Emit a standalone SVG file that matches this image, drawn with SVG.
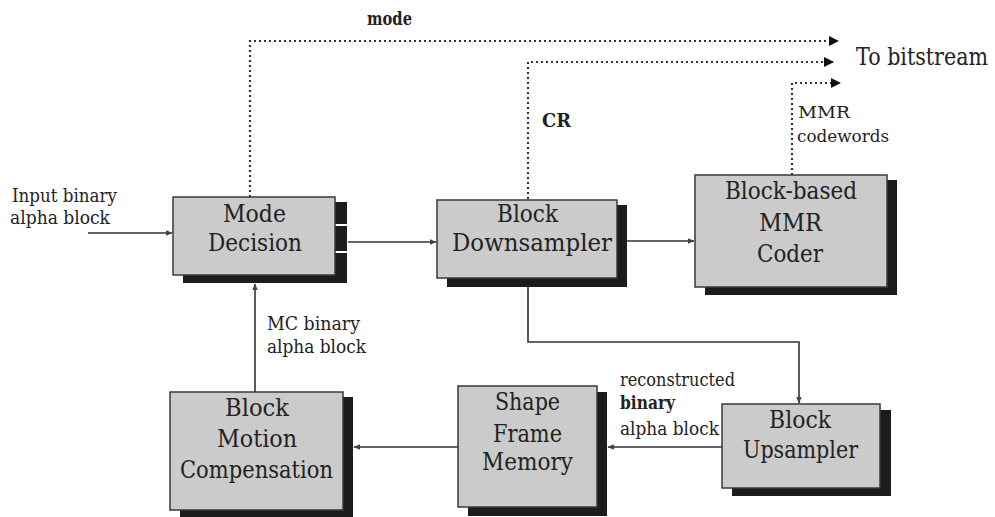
<svg xmlns="http://www.w3.org/2000/svg" width="995" height="517" viewBox="0 0 995 517">
<style>
.box{fill:#cbcbcb;stroke:#3a3a3a;stroke-width:1.5}
.sh{fill:#1c1c1c}
text{font-family:"DejaVu Serif","Liberation Serif",serif;fill:#222}
.bt{font-size:24px}
.st{font-size:18px}
.sm{font-size:16px}
.solid{fill:none;stroke:#333;stroke-width:1.6}
.dot{fill:none;stroke:#333;stroke-width:2.2;stroke-dasharray:2 3}
</style>
<defs>
<marker id="big" viewBox="0 0 10 10" refX="9" refY="5" markerWidth="10" markerHeight="10" markerUnits="userSpaceOnUse" orient="auto">
<path d="M0,0 L10,5 L0,10 Z" fill="#111"/>
</marker>
<marker id="sm" viewBox="0 0 10 10" refX="9" refY="5" markerWidth="7" markerHeight="7" markerUnits="userSpaceOnUse" orient="auto">
<path d="M0,1 L10,5 L0,9 Z" fill="#444"/>
</marker>
</defs>
<rect width="995" height="517" fill="#fff"/>

<g id="connectors">
<line class="solid" x1="88" y1="233" x2="172" y2="233" marker-end="url(#sm)"/>
<line class="solid" x1="348" y1="242" x2="436" y2="242" marker-end="url(#sm)"/>
<line class="solid" x1="627" y1="241" x2="694" y2="241" marker-end="url(#sm)"/>
<polyline class="solid" points="528,287 528,342 799,342 799,403" marker-end="url(#sm)"/>
<line class="solid" x1="722" y1="447" x2="608" y2="447" marker-end="url(#sm)"/>
<line class="solid" x1="458" y1="447" x2="354" y2="447" marker-end="url(#sm)"/>
<line class="solid" x1="255" y1="392" x2="255" y2="284" marker-end="url(#sm)"/>
<polyline class="dot" points="250,197 250,41 838,41" marker-end="url(#big)"/>
<polyline class="dot" points="528,199 528,62 833,62" marker-end="url(#big)"/>
<polyline class="dot" points="792,175 792,83 840,83" marker-end="url(#big)"/>
</g>

<g id="mode-decision">
<rect class="sh" x="335" y="202" width="12" height="22"/>
<rect class="sh" x="335" y="226" width="12" height="25"/>
<rect class="sh" x="335" y="253" width="12" height="30"/>
<rect class="sh" x="183" y="275" width="164" height="8"/>
<rect class="box" x="173" y="197" width="162" height="78"/>
<text class="bt" x="223" y="222" textLength="63" lengthAdjust="spacingAndGlyphs">Mode</text>
<text class="bt" x="208" y="251" textLength="94" lengthAdjust="spacingAndGlyphs">Decision</text>
</g>

<g id="block-downsampler">
<rect class="sh" x="617" y="205" width="10" height="82"/>
<rect class="sh" x="447" y="278" width="180" height="9"/>
<rect class="box" x="437" y="200" width="180" height="78"/>
<text class="bt" x="497" y="222" textLength="61" lengthAdjust="spacingAndGlyphs">Block</text>
<text class="bt" x="452" y="251" textLength="160" lengthAdjust="spacingAndGlyphs">Downsampler</text>
</g>

<g id="mmr-coder">
<rect class="sh" x="887" y="180" width="10" height="115"/>
<rect class="sh" x="705" y="287" width="192" height="8"/>
<rect class="box" x="695" y="175" width="192" height="112"/>
<text class="bt" x="725" y="199" textLength="132" lengthAdjust="spacingAndGlyphs">Block-based</text>
<text class="bt" x="759" y="231" textLength="63" lengthAdjust="spacingAndGlyphs">MMR</text>
<text class="bt" x="757" y="262" textLength="66" lengthAdjust="spacingAndGlyphs">Coder</text>
</g>

<g id="block-upsampler">
<rect class="sh" x="880" y="410" width="11" height="86"/>
<rect class="sh" x="732" y="488" width="159" height="8"/>
<rect class="box" x="722" y="404" width="158" height="84"/>
<text class="bt" x="769" y="428" textLength="62" lengthAdjust="spacingAndGlyphs">Block</text>
<text class="bt" x="743" y="458" textLength="115" lengthAdjust="spacingAndGlyphs">Upsampler</text>
</g>

<g id="shape-frame-memory">
<rect class="sh" x="597" y="392" width="10" height="124"/>
<rect class="sh" x="468" y="507" width="139" height="9"/>
<rect class="box" x="458" y="386" width="139" height="121"/>
<text class="bt" x="495" y="410" textLength="65" lengthAdjust="spacingAndGlyphs">Shape</text>
<text class="bt" x="493" y="442" textLength="69" lengthAdjust="spacingAndGlyphs">Frame</text>
<text class="bt" x="482" y="470" textLength="91" lengthAdjust="spacingAndGlyphs">Memory</text>
</g>

<g id="block-motion-compensation">
<rect class="sh" x="343" y="397" width="10" height="120"/>
<rect class="sh" x="180" y="510" width="173" height="7"/>
<rect class="box" x="170" y="392" width="173" height="118"/>
<text class="bt" x="225" y="416" textLength="64" lengthAdjust="spacingAndGlyphs">Block</text>
<text class="bt" x="217" y="447" textLength="80" lengthAdjust="spacingAndGlyphs">Motion</text>
<text class="bt" x="180" y="478" textLength="153" lengthAdjust="spacingAndGlyphs">Compensation</text>
</g>

<g id="labels">
<text class="st" x="12" y="202" textLength="105" lengthAdjust="spacingAndGlyphs">Input binary</text>
<text class="st" x="10" y="224" textLength="100" lengthAdjust="spacingAndGlyphs">alpha block</text>
<text class="st" x="367" y="25" textLength="45" lengthAdjust="spacingAndGlyphs" font-weight="bold">mode</text>
<text transform="translate(856,65) scale(1,1.2)" font-size="20" x="0" y="0" textLength="132" lengthAdjust="spacingAndGlyphs">To bitstream</text>
<text class="st" x="542" y="127" textLength="29" lengthAdjust="spacingAndGlyphs" font-weight="bold">CR</text>
<text class="sm" x="798" y="118" textLength="52" lengthAdjust="spacingAndGlyphs">MMR</text>
<text class="sm" x="797" y="142" textLength="92" lengthAdjust="spacingAndGlyphs">codewords</text>
<text class="st" x="267" y="330" textLength="93" lengthAdjust="spacingAndGlyphs">MC binary</text>
<text class="st" x="267" y="353" textLength="99" lengthAdjust="spacingAndGlyphs">alpha block</text>
<text class="st" x="620" y="386" textLength="115" lengthAdjust="spacingAndGlyphs">reconstructed</text>
<text class="st" x="620" y="409" textLength="55" lengthAdjust="spacingAndGlyphs" font-weight="bold">binary</text>
<text class="st" x="620" y="435" textLength="99" lengthAdjust="spacingAndGlyphs">alpha block</text>
</g>
</svg>
